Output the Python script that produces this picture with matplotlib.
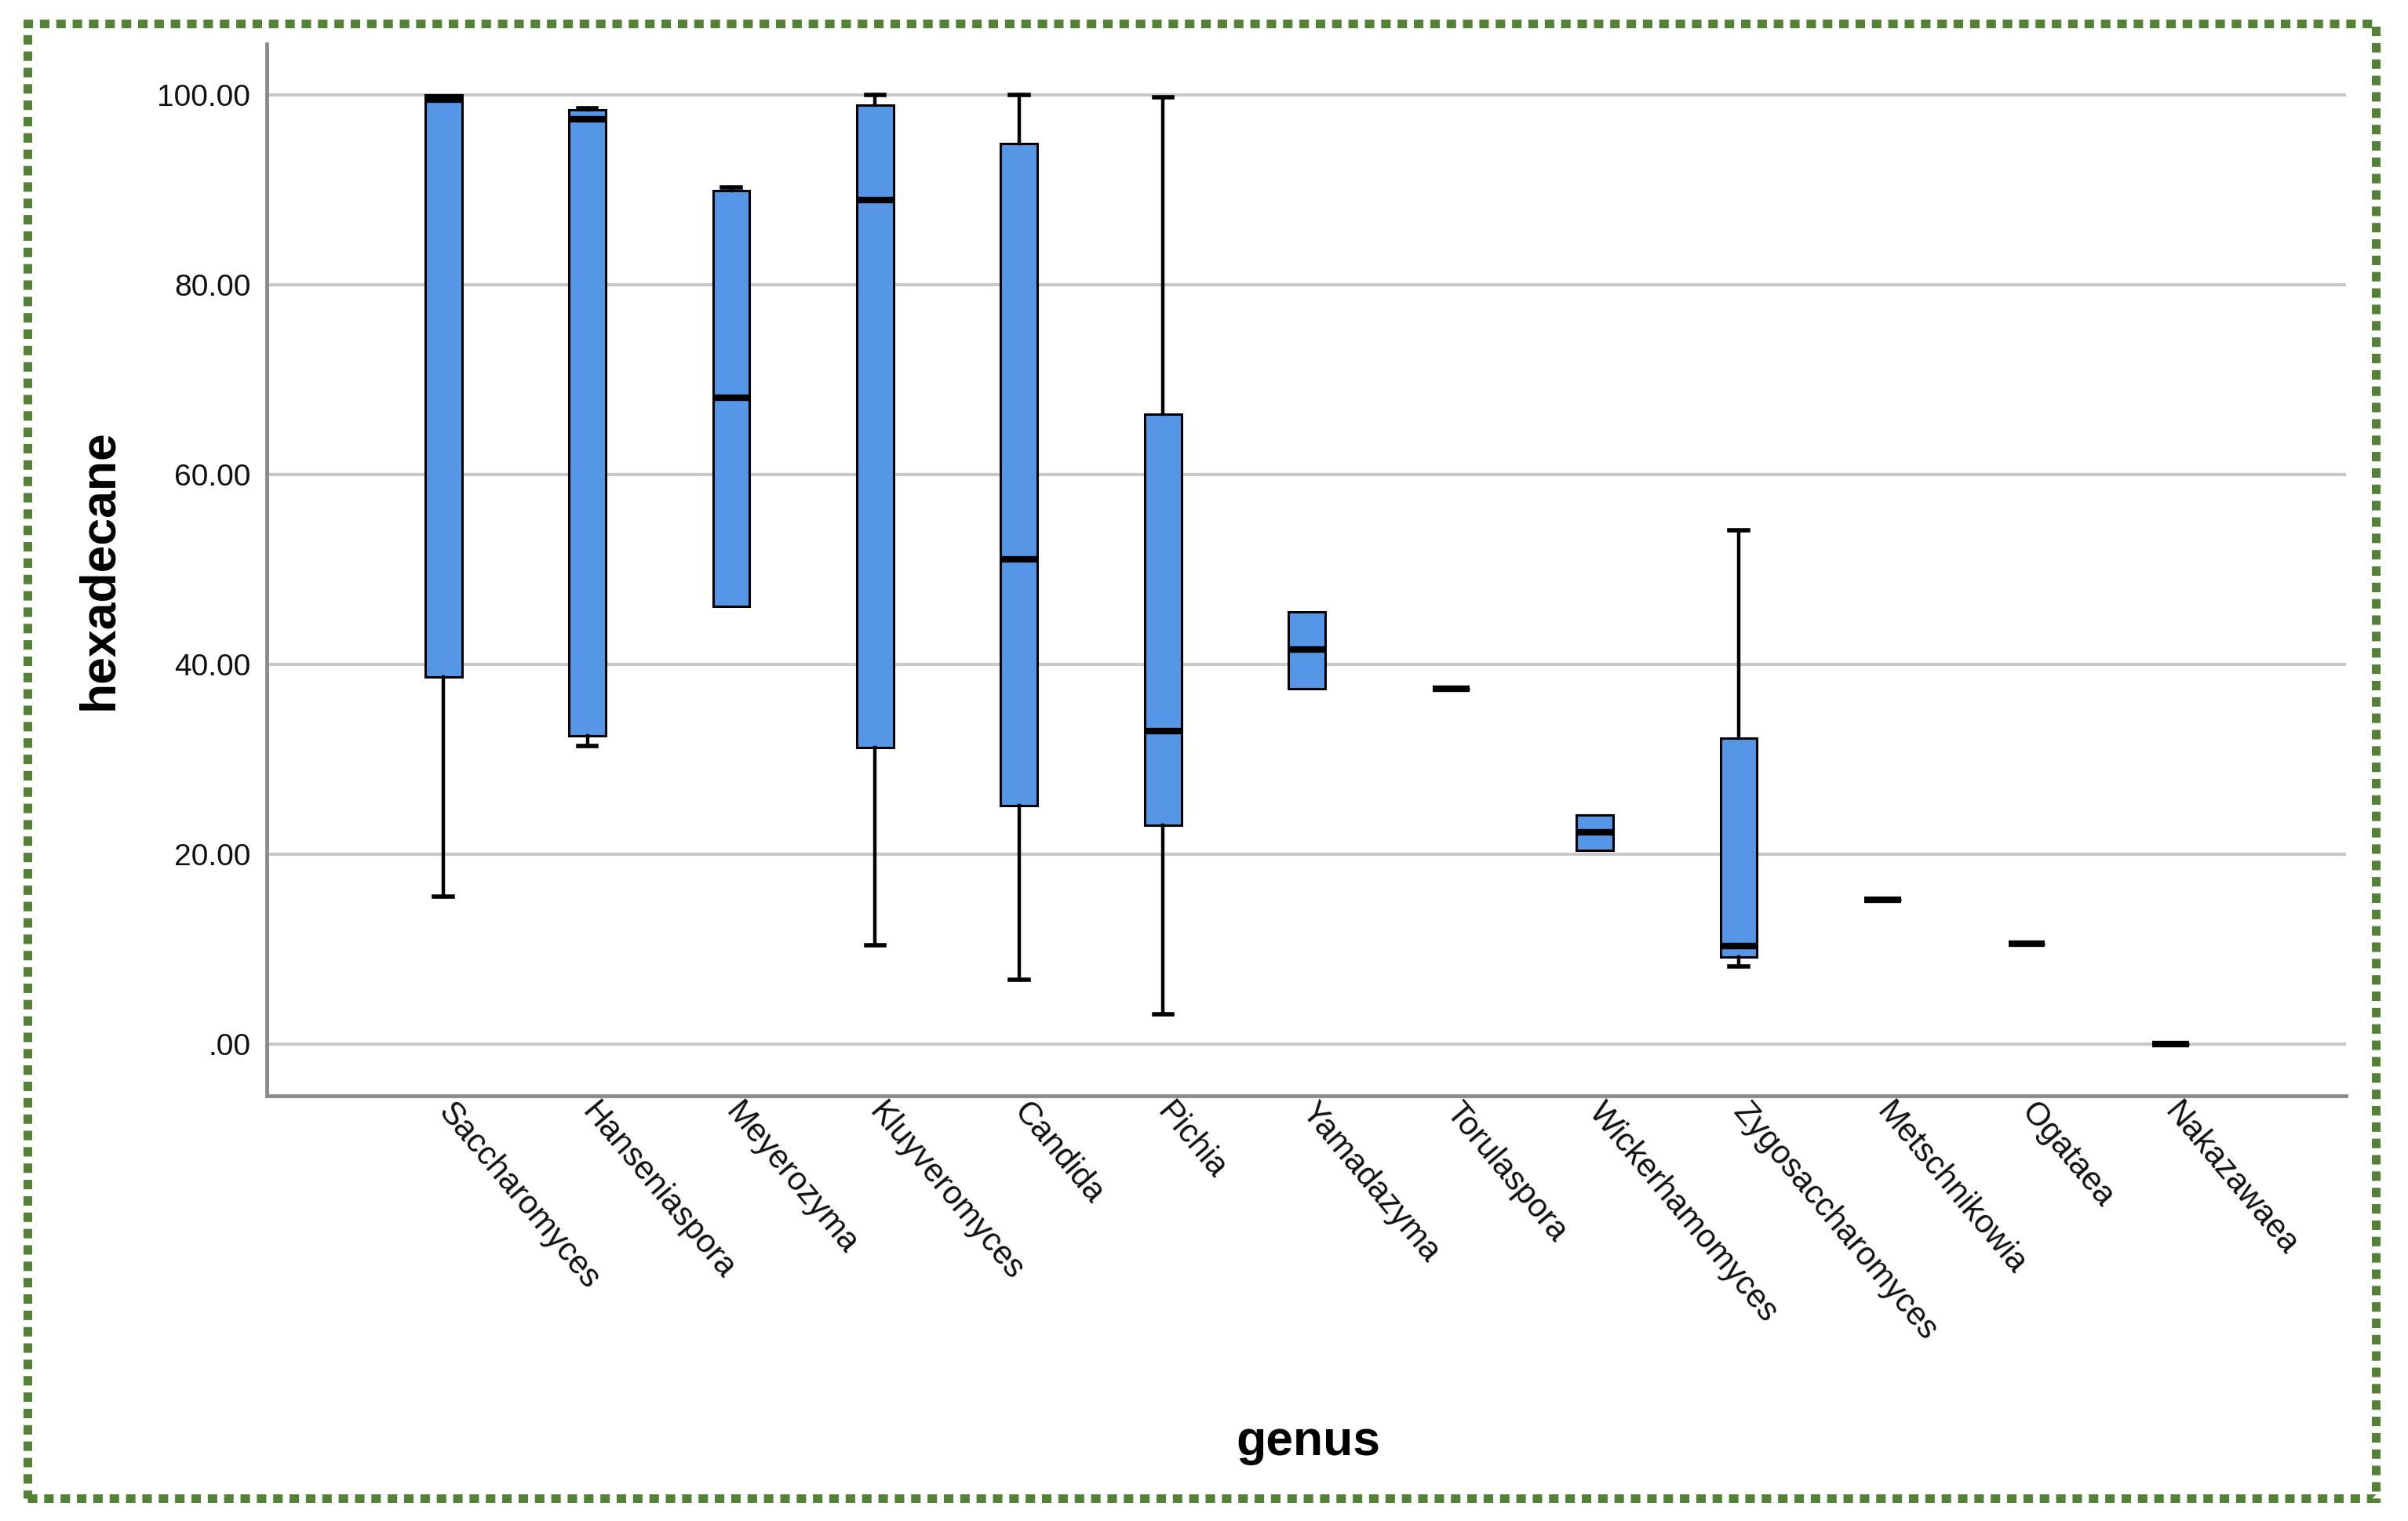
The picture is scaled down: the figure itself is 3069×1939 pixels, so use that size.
#!/usr/bin/env python3
import matplotlib
matplotlib.use("Agg")
import matplotlib.pyplot as plt
from matplotlib.patches import Rectangle

# box statistics (hexadecane by genus)
genera = ["Saccharomyces", "Hanseniaspora", "Meyerozyma", "Kluyveromyces",
          "Candida", "Pichia", "Yamadazyma", "Torulaspora", "Wickerhamomyces",
          "Zygosaccharomyces", "Metschnikowia", "Ogataea", "Nakazawaea"]
whishi = [100.0, 98.6, 90.2, 100.0, 100.0, 99.7, 45.5, 37.4, 24.1, 54.1, 15.2, 10.5, 0.0]
q3 = [100.0, 98.4, 89.9, 98.9, 94.8, 66.3, 45.5, 37.4, 24.1, 32.2, 15.2, 10.5, 0.0]
med = [99.5, 97.4, 68.1, 88.9, 51.0, 32.9, 41.5, 37.4, 22.3, 10.3, 15.2, 10.5, 0.0]
q1 = [38.6, 32.4, 46.1, 31.2, 25.1, 23.0, 37.4, 37.4, 20.4, 9.1, 15.2, 10.5, 0.0]
whislo = [15.5, 31.4, 46.1, 10.4, 6.7, 3.1, 37.4, 37.4, 20.4, 8.1, 15.2, 10.5, 0.0]

yticks = [0, 20, 40, 60, 80, 100]
ytick_labels = [".00", "20.00", "40.00", "60.00", "80.00", "100.00"]

plt.rcParams["font.family"] = ["Liberation Sans", "DejaVu Sans"]

fig = plt.figure(figsize=(30.69, 19.39), dpi=100)
ax = fig.add_axes([0.1108, 0.2795, 0.8635, 0.6917])

stats = []
for i, g in enumerate(genera):
    stats.append({"label": g, "med": med[i], "q1": q1[i], "q3": q3[i],
                  "whislo": whislo[i], "whishi": whishi[i], "fliers": []})

pos = list(range(1, len(genera) + 1))
bp = ax.bxp(stats, positions=pos, widths=0.255, patch_artist=True,
            showfliers=False,
            boxprops=dict(facecolor="#5596e6", edgecolor="black", linewidth=2.2),
            medianprops=dict(color="black", linewidth=6.0, solid_capstyle="butt"),
            whiskerprops=dict(color="black", linewidth=3.2),
            capprops=dict(color="black", linewidth=4.0),
            capwidths=0.127)

# hide caps where there is no whisker
for i in range(len(genera)):
    if whislo[i] >= q1[i]:
        bp["caps"][2 * i].set_visible(False)
        bp["whiskers"][2 * i].set_visible(False)
    if whishi[i] <= q3[i]:
        bp["caps"][2 * i + 1].set_visible(False)
        bp["whiskers"][2 * i + 1].set_visible(False)

ax.set_xlim(-0.227, 14.22)
ax.set_ylim(-5.5, 105.35)
ax.set_yticks(yticks)
ax.set_yticklabels(ytick_labels, fontsize=28, color="#111111")
ax.set_xticks(pos)
ax.set_xticklabels(genera, fontsize=30, color="#111111", rotation=-50,
                   ha="left", va="center", rotation_mode="anchor")
ax.tick_params(axis="y", length=0, pad=15)
ax.tick_params(axis="x", length=0, pad=10)

ax.grid(axis="y", color="#c8c8c8", linewidth=3)
ax.grid(axis="x", visible=False)
ax.set_axisbelow(True)
for s in ["top", "right"]:
    ax.spines[s].set_visible(False)
for s in ["left", "bottom"]:
    ax.spines[s].set_color("#8a8a8a")
    ax.spines[s].set_linewidth(3.5)

fig.text(0.0414, 0.6256, "hexadecane", rotation=90, fontsize=45,
         fontweight="bold", ha="center", va="center")
fig.text(0.5433, 0.0516, "genus", fontsize=45, fontweight="bold",
         ha="center", va="center")

# dotted green frame
frame = Rectangle((0.0114, 0.015), 0.9752, 0.9695, transform=fig.transFigure,
                  fill=False, edgecolor="#538135", linewidth=7.9,
                  linestyle=(0, (1.1, 0.8)))
fig.patches.append(frame)

fig.savefig("out.png", dpi=100, facecolor="white")
